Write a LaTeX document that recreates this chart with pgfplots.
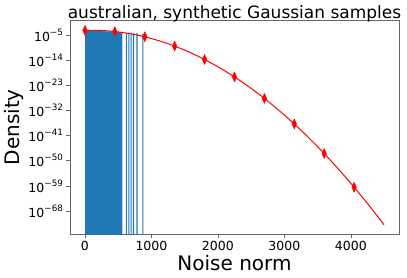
\documentclass[border=0pt]{standalone}
\usepackage{fontspec}
\setmainfont{DejaVu Sans}
\usepackage{pgfplots}
\pgfplotsset{compat=1.18}
\definecolor{mplblue}{HTML}{1F77B4}
\newcommand{\ten}[1]{10\raisebox{0.48em}{\fontsize{8.8}{10}\selectfont #1}}
\begin{document}
\begin{tikzpicture}
\useasboundingbox (-70pt,-42.5pt) rectangle (337pt,234.5pt);
\begin{axis}[
  anchor=south west, at={(0,0)},
  scale only axis, width=329pt, height=214.5pt,
  xmin=-225, xmax=4725,
  ymode=log, ymin=3.2e-77, ymax=4e0,
  log origin=infty,
  axis line style={black!60},
  every tick/.style={black!60, line width=0.6pt},
  tick align=outside, major tick length=3.5pt,
  xtick pos=bottom, ytick pos=left,
  minor x tick num=0, minor y tick num=0,
  xtick={0,1000,2000,3000,4000},
  xticklabels={0,1000,2000,3000,4000},
  ytick={1e-5,1e-14,1e-23,1e-32,1e-41,1e-50,1e-59,1e-68},
  yticklabels={\ten{−5},\ten{−14},\ten{−23},\ten{−32},\ten{−41},\ten{−50},\ten{−59},\ten{−68}},
  tick label style={font=\fontsize{12.5}{15}\selectfont},
  /pgf/number format/assume math mode=true,
  title={australian, synthetic Gaussian samples},
  title style={font=\fontsize{17}{20}\selectfont, yshift=-12pt},
  xlabel={Noise norm}, ylabel={Density},
  label style={font=\fontsize{20}{24}\selectfont},
  xlabel style={yshift=3pt},
  ylabel style={yshift=-2pt},
]
\addplot[ybar, bar width=15.5, bar shift=0pt, fill=mplblue, draw=none] coordinates {
(8.8,4.6e-4) (26.4,4.4e-4) (44.0,4.7e-4) (61.6,4.3e-4) (79.2,4.5e-4) (96.8,4.2e-4)
(114.4,4.4e-4) (132.0,4.1e-4) (149.6,4.3e-4) (167.2,4.0e-4) (184.8,4.2e-4) (202.4,3.9e-4)
(220.0,4.0e-4) (237.6,3.7e-4) (255.2,3.8e-4) (272.8,3.6e-4) (290.4,3.7e-4) (308.0,3.4e-4)
(325.6,3.5e-4) (343.2,3.2e-4) (360.8,3.3e-4) (378.4,3.0e-4) (396.0,3.1e-4) (413.6,2.8e-4)
(431.2,2.7e-4) (448.8,2.5e-4) (466.4,2.3e-4) (484.0,2.4e-4) (501.6,2.0e-4) (519.2,1.8e-4)
(536.8,1.6e-4) (554.4,1.4e-4)
(624.8,1.0e-4) (660.0,9e-5) (695.2,9e-5) (730.4,8e-5) (783.2,7e-5) (871.2,5e-5)
};
\addplot[red, line width=1pt, smooth, mark=none] coordinates {
(0,8.13e-4) (225,7.41e-4) (450,2.88e-4) (675,5.01e-5) (900,3.63e-6) (1125,1.175e-7)
(1350,1.62e-9) (1575,9.77e-12) (1800,2.51e-14) (2025,2.82e-17) (2250,1.35e-20)
(2475,2.82e-24) (2700,2.57e-28) (2925,1.0e-32) (3150,1.70e-37) (3375,1.26e-42)
(3600,3.98e-48) (3825,5.37e-54) (4050,3.24e-60) (4275,8.32e-67) (4500,9.12e-74)
};
\addplot[red, only marks, mark=diamond*, mark size=5pt, mark options={xscale=0.6, fill=red, draw=red}] coordinates {
(0,8.13e-4) (450,2.88e-4) (900,3.63e-6) (1350,1.62e-9) (1800,2.51e-14) (2250,1.35e-20)
(2700,2.57e-28) (3150,1.70e-37) (3600,3.98e-48) (4050,3.24e-60)
};
\end{axis}
\end{tikzpicture}
\end{document}
